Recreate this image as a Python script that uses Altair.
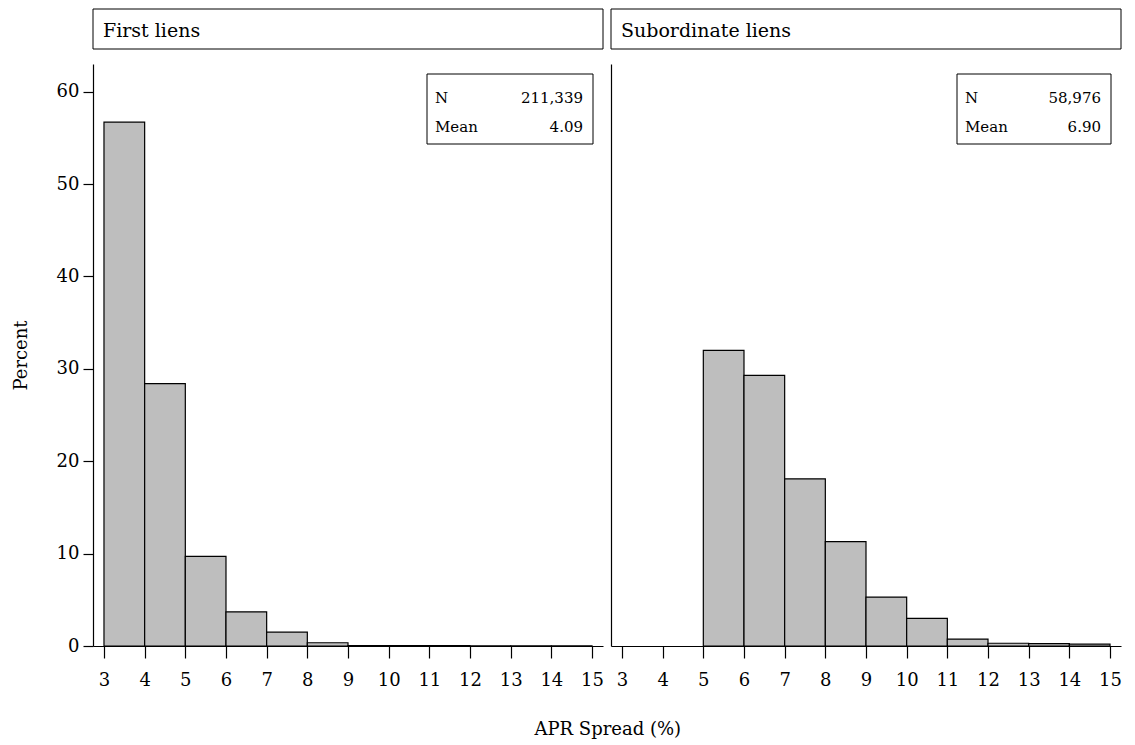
import altair as alt
import pandas as pd

FONT = "DejaVu Serif"

bin_start = [3, 4, 5, 6, 7, 8, 9, 10, 11, 12, 13, 14]
bin_end = [4, 5, 6, 7, 8, 9, 10, 11, 12, 13, 14, 15]
first_pct = [56.7, 28.4, 9.7, 3.7, 1.5, 0.35, 0.05, 0.03, 0.03, 0.02, 0.02, 0.02]
sub_pct = [0, 0, 32.0, 29.3, 18.1, 11.3, 5.3, 3.0, 0.75, 0.3, 0.25, 0.2]

panel_titles = ["First liens", "Subordinate liens"]
stat_n = ["211,339", "58,976"]
stat_mean = ["4.09", "6.90"]
x_ticks = list(range(3, 16))
y_ticks = [0, 10, 20, 30, 40, 50, 60]

W = 510
H = 582


def header(label):
    df = pd.DataFrame({"label": [label]})
    box = alt.Chart(df).mark_rect(fill="white", stroke="black", strokeWidth=1).encode(
        x=alt.value(0), x2=alt.value(W), y=alt.value(0), y2=alt.value(40)
    )
    txt = alt.Chart(df).mark_text(
        align="left", baseline="middle", font=FONT, fontSize=19, color="black"
    ).encode(x=alt.value(10), y=alt.value(22), text="label:N")
    return (box + txt).properties(width=W, height=40)


def panel(pcts, n, mean, show_y, box_x0, box_x1):
    df = pd.DataFrame({"start": bin_start, "end": bin_end, "pct": pcts})
    df = df[df["pct"] > 0]
    xaxis = alt.Axis(
        values=x_ticks, title=None, grid=False, domainColor="black", tickColor="black",
        tickSize=12, labelFontSize=18, labelFont=FONT, labelColor="black",
        labelPadding=13, domainWidth=1.2, tickWidth=1.2, labelFlush=False,
    )
    if show_y:
        yaxis = alt.Axis(
            values=y_ticks, title="Percent", grid=False, domainColor="black", tickColor="black",
            tickSize=10, labelFontSize=18, labelFont=FONT, labelColor="black", labelPadding=4,
            titleFont=FONT, titleFontSize=18, titleFontWeight="normal", titleColor="black",
            titlePadding=26, domainWidth=1.2, tickWidth=1.2,
        )
    else:
        yaxis = alt.Axis(
            values=y_ticks, title=None, grid=False, domainColor="black", ticks=False,
            labels=False, domainWidth=1.2,
        )
    bars = alt.Chart(df).mark_rect(fill="#bebebe", stroke="black", strokeWidth=1.2).encode(
        x=alt.X("start:Q", scale=alt.Scale(domain=[2.73, 15.27], nice=False, zero=False), axis=xaxis),
        x2="end:Q",
        y=alt.Y("pct:Q", scale=alt.Scale(domain=[0, 63], nice=False), axis=yaxis),
        y2=alt.datum(0),
    )
    sdf = pd.DataFrame({"n": [n], "mean": [mean]})
    bx0 = box_x0
    bx1 = box_x1
    box = alt.Chart(sdf).mark_rect(fill="white", stroke="black", strokeWidth=1).encode(
        x=alt.value(bx0), x2=alt.value(bx1), y=alt.value(10), y2=alt.value(80)
    )
    common = dict(font=FONT, fontSize=15, color="black", baseline="middle")
    t1 = alt.Chart(sdf).mark_text(align="left", **common).encode(
        x=alt.value(bx0 + 8), y=alt.value(34), text=alt.value("N"))
    t2 = alt.Chart(sdf).mark_text(align="right", **common).encode(
        x=alt.value(bx1 - 10), y=alt.value(34), text="n:N")
    t3 = alt.Chart(sdf).mark_text(align="left", **common).encode(
        x=alt.value(bx0 + 8), y=alt.value(63), text=alt.value("Mean"))
    t4 = alt.Chart(sdf).mark_text(align="right", **common).encode(
        x=alt.value(bx1 - 10), y=alt.value(63), text="mean:N")
    return alt.layer(bars, box, t1, t2, t3, t4).properties(width=W, height=H)


left = alt.vconcat(header(panel_titles[0]),
                   panel(first_pct, stat_n[0], stat_mean[0], True, 334, 500), spacing=14)
right = alt.vconcat(header(panel_titles[1]),
                    panel(sub_pct, stat_n[1], stat_mean[1], False, 346, 500), spacing=14)

chart = alt.hconcat(left, right, spacing=6).properties(
    padding={"left": 4, "top": 0, "right": 5, "bottom": 5},
    title=alt.TitleParams(
        text="APR Spread (%)", orient="bottom", anchor="middle", font=FONT, fontSize=18,
        fontWeight="normal", color="black", offset=32, dx=41,
    ),
).configure(background="white").configure_view(strokeWidth=0, stroke="transparent")

chart.save("out.html", embed_options={"renderer": "svg", "actions": False})
